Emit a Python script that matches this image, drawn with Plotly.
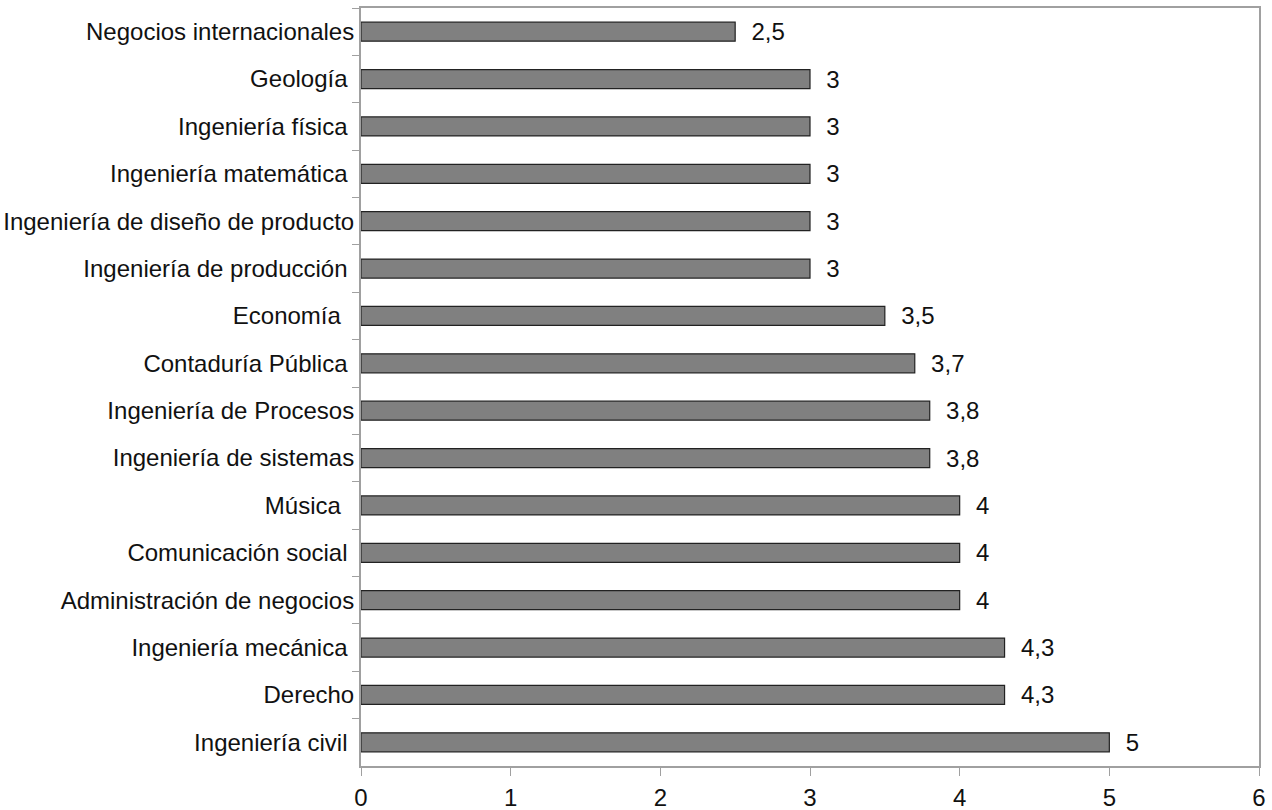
import plotly.graph_objects as go

categories = [
    "Negocios internacionales",
    "Geología\u00a0",
    "Ingeniería física\u00a0",
    "Ingeniería matemática\u00a0",
    "Ingeniería de diseño de producto",
    "Ingeniería de producción\u00a0",
    "Economía\u00a0\u00a0",
    "Contaduría Pública\u00a0",
    "Ingeniería de Procesos",
    "Ingeniería de sistemas",
    "Música\u00a0\u00a0",
    "Comunicación social\u00a0",
    "Administración de negocios",
    "Ingeniería mecánica\u00a0",
    "Derecho",
    "Ingeniería civil\u00a0",
]
values = [2.5, 3, 3, 3, 3, 3, 3.5, 3.7, 3.8, 3.8, 4, 4, 4, 4.3, 4.3, 5]
value_labels = ["2,5", "3", "3", "3", "3", "3", "3,5", "3,7", "3,8", "3,8", "4", "4", "4", "4,3", "4,3", "5"]
x_ticks = [0, 1, 2, 3, 4, 5, 6]

font_family = "Liberation Sans, Arial, sans-serif"
fs = 24

fig = go.Figure(
    go.Bar(
        x=values,
        y=categories,
        orientation="h",
        marker=dict(color="#808080", line=dict(color="#222222", width=1.2)),
        text=["\u00a0\u00a0" + t for t in value_labels],
        textposition="outside",
        constraintext="none",
        cliponaxis=False,
        textfont=dict(family=font_family, size=fs, color="#111111"),
        hoverinfo="skip",
    )
)

fig.update_layout(
    width=1272,
    height=810,
    margin=dict(l=361, r=13, t=8, b=44, autoexpand=False),
    paper_bgcolor="white",
    plot_bgcolor="white",
    bargap=0.6,
    showlegend=False,
    font=dict(family=font_family, size=fs, color="#111111"),
)

fig.update_xaxes(
    range=[0, 6],
    tickvals=x_ticks,
    ticktext=[str(v) for v in x_ticks],
    showgrid=False,
    zeroline=False,
    showline=True,
    linecolor="#a0a0a0",
    linewidth=2,
    mirror=True,
    ticks="outside",
    ticklen=8,
    tickcolor="#a0a0a0",
    tickfont=dict(family=font_family, size=fs, color="#111111"),
    ticklabelstandoff=1,
    automargin=False,
)

fig.update_yaxes(
    autorange="reversed",
    showgrid=False,
    zeroline=False,
    showline=True,
    linecolor="#a0a0a0",
    linewidth=2,
    mirror=True,
    ticks="outside",
    tickson="boundaries",
    ticklen=7,
    tickcolor="#a0a0a0",
    tickfont=dict(family=font_family, size=fs, color="#111111"),
    automargin=False,
)

fig.write_html(
    "out.html",
    config={"displayModeBar": False},
    post_script="document.body.style.margin='0';document.body.style.overflow='hidden';",
)
